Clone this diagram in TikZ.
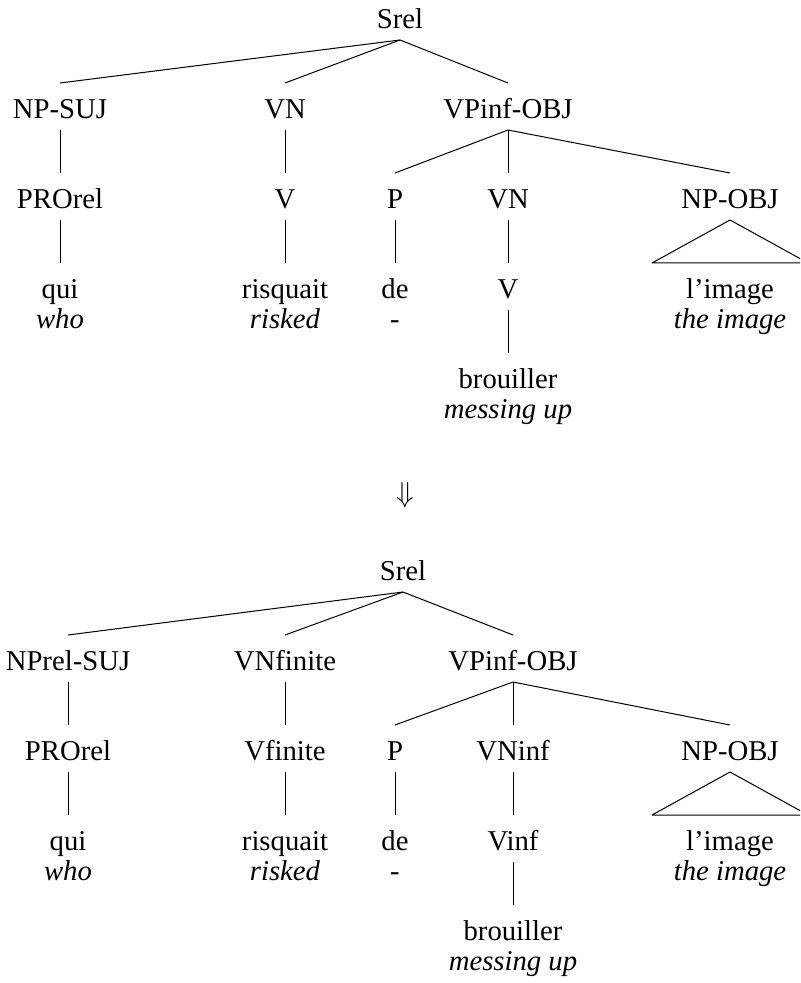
\documentclass[tikz,border=0pt]{standalone}
\usepackage{fontspec}
\setmainfont{Liberation Serif}
\begin{document}
\begin{tikzpicture}[
  x=0.5pt, y=-0.5pt,
  every node/.style={font=\fontsize{14.35pt}{16pt}\selectfont, inner sep=0pt, outer sep=0pt, anchor=base},
  lbl/.style={text height=17.75pt, text depth=5.75pt},
  gloss/.style={font=\fontsize{14.35pt}{16pt}\selectfont\itshape},
  branch/.style={line width=0.5pt, line join=round}
]
\clip (0,0) rectangle (800,983);

% ---------- first tree ----------
\node[lbl] (as)   at (400,28.5)  {Srel};
\node[lbl] (anp)  at (60,118.5)  {NP-SUJ};
\node[lbl] (avn)  at (285,118.5) {VN};
\node[lbl] (avp)  at (508,118.5) {VPinf-OBJ};
\node[lbl] (apro) at (60,208.5)  {PROrel};
\node[lbl] (av)   at (285,208.5) {V};
\node[lbl] (ap)   at (395,208.5) {P};
\node[lbl] (avn2) at (508,208.5) {VN};
\node[lbl] (aobj) at (730,208.5) {NP-OBJ};
\node[lbl] (aqui) at (60,298.5)  {qui};
\node[lbl] (arsq) at (285,298.5) {risquait};
\node[lbl] (ade)  at (395,298.5) {de};
\node[lbl] (av2)  at (508,298.5) {V};
\node[lbl] (aimg) at (730,298.5) {l’image};
\node[gloss] (awho) at (60,328.5)  {who};
\node[gloss] (arsk) at (285,328.5) {risked};
\node (adash)       at (395,328.5) {-};
\node[gloss] (athe) at (730,328.5) {the image};
\node[lbl] (abro) at (508,388.5) {brouiller};
\node[gloss] (amess) at (508,418.5) {messing up};

\draw[branch] (as.south) -- (anp.north);
\draw[branch] (as.south) -- (avn.north);
\draw[branch] (as.south) -- (avp.north);
\draw[branch] (anp.south) -- (apro.north);
\draw[branch] (avn.south) -- (av.north);
\draw[branch] (avp.south) -- (ap.north);
\draw[branch] (avp.south) -- (avn2.north);
\draw[branch] (avp.south) -- (aobj.north);
\draw[branch] (apro.south) -- (aqui.north);
\draw[branch] (av.south) -- (arsq.north);
\draw[branch] (ap.south) -- (ade.north);
\draw[branch] (avn2.south) -- (av2.north);
\draw[branch] (av2.south) -- (abro.north);
\draw[branch] (aobj.south) -- ([xshift=-39pt]aimg.north) -- ([xshift=39pt]aimg.north) -- cycle;

% ---------- rewriting arrow ----------
\node (arrow) at (405,502) {$\Downarrow$};

% ---------- second tree ----------
\node[lbl] (bs)   at (403,580.5) {Srel};
\node[lbl] (bnp)  at (68,670.5)  {NPrel-SUJ};
\node[lbl] (bvn)  at (285,670.5) {VNfinite};
\node[lbl] (bvp)  at (513,670.5) {VPinf-OBJ};
\node[lbl] (bpro) at (68,760.5)  {PROrel};
\node[lbl] (bv)   at (285,760.5) {Vfinite};
\node[lbl] (bp)   at (395,760.5) {P};
\node[lbl] (bvn2) at (513,760.5) {VNinf};
\node[lbl] (bobj) at (730,760.5) {NP-OBJ};
\node[lbl] (bqui) at (68,850.5)  {qui};
\node[lbl] (brsq) at (285,850.5) {risquait};
\node[lbl] (bde)  at (395,850.5) {de};
\node[lbl] (bv2)  at (513,850.5) {Vinf};
\node[lbl] (bimg) at (730,850.5) {l’image};
\node[gloss] (bwho) at (68,880.5)  {who};
\node[gloss] (brsk) at (285,880.5) {risked};
\node (bdash)       at (395,880.5) {-};
\node[gloss] (bthe) at (730,880.5) {the image};
\node[lbl] (bbro) at (513,940.5) {brouiller};
\node[gloss] (bmess) at (513,970.5) {messing up};

\draw[branch] (bs.south) -- (bnp.north);
\draw[branch] (bs.south) -- (bvn.north);
\draw[branch] (bs.south) -- (bvp.north);
\draw[branch] (bnp.south) -- (bpro.north);
\draw[branch] (bvn.south) -- (bv.north);
\draw[branch] (bvp.south) -- (bp.north);
\draw[branch] (bvp.south) -- (bvn2.north);
\draw[branch] (bvp.south) -- (bobj.north);
\draw[branch] (bpro.south) -- (bqui.north);
\draw[branch] (bv.south) -- (brsq.north);
\draw[branch] (bp.south) -- (bde.north);
\draw[branch] (bvn2.south) -- (bv2.north);
\draw[branch] (bv2.south) -- (bbro.north);
\draw[branch] (bobj.south) -- ([xshift=-39pt]bimg.north) -- ([xshift=39pt]bimg.north) -- cycle;
\end{tikzpicture}
\end{document}
